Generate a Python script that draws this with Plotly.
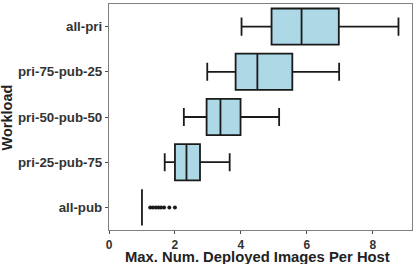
import plotly.graph_objects as go

workloads = ["all-pub", "pri-25-pub-75", "pri-50-pub-50", "pri-75-pub-25", "all-pri"]
lower = [1.0, 1.69, 2.27, 2.98, 4.02]
q1 = [1.0, 2.0, 2.96, 3.84, 4.93]
median = [1.0, 2.35, 3.38, 4.5, 5.84]
q3 = [1.0, 2.76, 3.99, 5.56, 6.97]
upper = [1.0, 3.66, 5.16, 6.98, 8.78]

outlier_workload = ["all-pub"] * 8
outlier_values = [1.25, 1.33, 1.42, 1.5, 1.58, 1.67, 1.83, 2.0]

x_ticks = [0, 2, 4, 6, 8]
x_title = "Max. Num. Deployed Images Per Host"
y_title = "Workload"

fig = go.Figure()
fig.add_trace(go.Box(
    y=workloads, q1=q1, median=median, q3=q3,
    lowerfence=lower, upperfence=upper,
    orientation="h",
    fillcolor="#add8e6",
    line=dict(color="#1a1a1a", width=1.8),
    whiskerwidth=0.5,
    boxpoints=False,
    showlegend=False,
    hoverinfo="skip",
))
fig.add_trace(go.Scatter(
    x=outlier_values, y=outlier_workload, mode="markers",
    marker=dict(color="#1a1a1a", size=4),
    showlegend=False, hoverinfo="skip",
))

font_family = "Liberation Sans, Arial, sans-serif"
fig.update_layout(
    width=415, height=264,
    margin=dict(l=109, r=3, t=4, b=34, pad=0),
    plot_bgcolor="white", paper_bgcolor="white",
    boxgap=0.2, boxgroupgap=0,
    font=dict(family=font_family, color="#4d4d4d"),
    xaxis=dict(
        range=[0, 9.19], tickvals=x_ticks, ticktext=[str(v) for v in x_ticks],
        showgrid=False, zeroline=False, automargin=False,
        showline=True, linecolor="#808080", linewidth=1.2, mirror=True,
        ticks="outside", ticklen=3, tickcolor="#4d4d4d", tickwidth=1,
        tickfont=dict(size=12, family=font_family, color="#333333", weight="bold"),
    ),
    yaxis=dict(
        type="category", categoryorder="array", categoryarray=workloads,
        range=[-0.5, 4.5],
        showgrid=False, zeroline=False, automargin=False,
        showline=True, linecolor="#808080", linewidth=1.2, mirror=True,
        ticks="outside", ticklen=3, tickcolor="#4d4d4d", tickwidth=1,
        tickfont=dict(size=13.3, family=font_family, color="#333333", weight="bold"),
    ),
    annotations=[
        dict(text=x_title, xref="paper", yref="paper", x=0.4914, y=-0.118,
             xanchor="center", yanchor="middle", showarrow=False,
             font=dict(size=14.8, family=font_family, color="#222222", weight="bold")),
        dict(text=y_title, xref="paper", yref="paper", x=-0.335, y=0.5,
             xanchor="center", yanchor="middle", showarrow=False, textangle=-90,
             font=dict(size=14.5, family=font_family, color="#222222", weight="bold")),
    ],
)

fig.write_html("out.html", config={"displayModeBar": False},
               post_script="document.body.style.margin='0';")
